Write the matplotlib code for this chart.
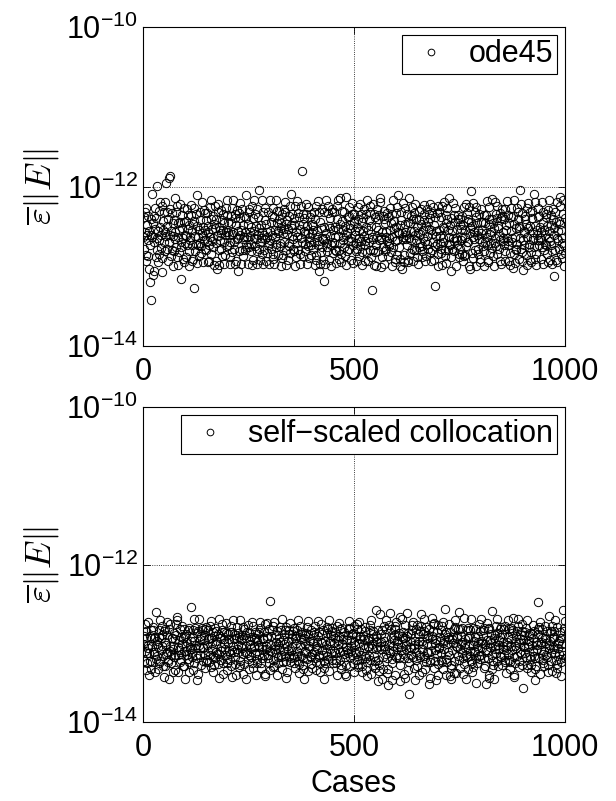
import numpy as np
import matplotlib
matplotlib.use('Agg')
import matplotlib.pyplot as plt

# error level per case, one letter per case ('a' = lowest level)
ode45_codes = (
    "mpkqnhrjom lqingekpmb mtfogqlnri pkvmhnqjls omkrigpnql"
    "jnsmwkqoph lwxmrinkqo hmpjtlnqki rmohnjpsle knqmiorhlm"
    "pimkrnqjho lmsqhnkiop rdjmlqhtok mnipqlkjsn homrlkqnjp"
    "qlnhokimrp jsnlqmkohr nlpigmqsjh olnrmkpiqn hlomjrnkqs"
    "npkmlihqor jmnslkpqhi olrnmgjqps mhnkrloiqm jnpltkmhor"
    "kqmnjolrhp imnskqlojh rmpnkuilom sjnhqkmlpr iomnjkqlhs"
    "lnokmqrjip hmnlskoqjn mprklhnoqi jmlnrsqkho pminlkqjro"
    "umnqlkpojh rinmlsqkpo jnhmrlyqio pnmjlsqhok rnilmpqkjo"
    "mkonlqhpjr inmsklgqhp jnrmklioeq hmnsljkrqo imnpkhqlrj"
    "nlqkomjhpr snmiklotjh rpnmlkqoit hmjnlpkrqo nimlsqkhpo"
    "qmnjlokhrp mnisklqohj pnrmlkiqos jhmnlprkqo icmlskqhpj"
    "okhmrnpjlq stlmgnikqp hrojnmkqli plkmnrjohq mkspnlhiqo"
    "ljrntkmohi pqngmlsjho nrlmkqpiht mojnlqkrhp qnkmsljpio"
    "hnpqkmlori kjmnqpslho irmlkonqjp snhmkqlrio pkdmnqlhjr"
    "nqlmkjphro mlsnkioqhp rjnmltkogi pnkmsjlqro hmklnpqijo"
    "kplnmqjhor injmksqlpo lhrnmgupoj simnlkqhpr omjnklqhip"
    "mrnlkpqjho lnqsmkihop rmjnlktpoi hnmslkqrjp onmkilqhpr"
    "qnlmkpjrho nmslkqoijh prnmlgqojs hmnjkrlqpo niumksqhjg"
    "lkmnqpojhr mnsklqiohj rpmnlktois jhnmlprkqo mnilskqhpj"
    "nmlkqpojhr smnilkqohj prnmfkqois hmnlpkrtoj nimlsqkhpj"
)
# tenths of a level added to each letter above
ode45_fine = (
    "3827194056 7193528460 2958103746 6041839275 1739502684"
    "8264017359 4916283057 0537291846 9382650147 5820394716"
    "1649372805 7302958461 4175036829 2693817450 8041726593"
    "6518290374 3975104628 8240657193 0751923846 4386051729"
    "2097364185 6829417350 5913028674 7460395812 9170842563"
    "4752810936 1048639275 3689172450 8215706934 0632497158"
    "7391605248 5260847913 9406218735 1947358026 3827160495"
    "0583926471 8613275094 2751940386 6398014527 7054283916"
    "9126473508 2437961850 6830592147 4109275863 1596807324"
    "5270138649 9754016238 0162847395 3682591704 8205439617"
    "3648201975 0481753926 7325690418 5916438072 6739104285"
    "1905364782 6293817405 4087132569 9270546813 2481957360"
    "8162759403 3705294186 1596840273 0843712695 5306289471"
    "4039581627 7816430592 8240197356 2698053714 9754360128"
    "6715248390 1359087264 5963028417 7410386259 0198742635"
    "2487013956 8602715349 3178965024 4532907186 7625193840"
    "9354602718 4027391865 6841230579 1805264937 3951086472"
    "0261857394 5176928043 9530471628 6389150742 8470215963"
    "7893146025 2945071386 0712859346 3256784901 1238647509"
    "5608493271 9031682457 4286307915 8047219563 6502938174"
)

ssc_codes = (
    "oqlnsjprmk tnomilqrpj kosrnpmqil vopmjnrqkt lnpsoqmjrh"
    "pjromtnqlk rhosnmkpqi onlrpjmsqu toimnpkrlq mosjpnrkhq"
    "qnopmlrksi onwpqlmjrt kpsnomqlhr iotpnmqkrs nlopqmjrsk"
    "lornpqkmsj ptonmirqkl sonrpmkqht mpqonlsrki ropnmqtljk"
    "oqnprmlksh nrotpmqkli psnomrqjkt lopnqsmirk qnhopmrlsj"
    "rmopnqlktj sonprmqikl pqonmrtsjk lnopqmrhsi onptqmlrkj"
    "xnqomrlsjk tonpqmrilk oqnpsmlrjt kpnoqmrlsh ionpqrmtkl"
    "nqopmrlskj poqnrmtlik sonpmqrjlk hponqmrsli tqonpmrlkj"
    "mpoqnrlsjk onptqmrlik spnoqmrjlh kponqmsrlt jonpqmrlsk"
    "qonpmrlksi npoqtmrljk sopnqmrilh konpqmrstj lonpqmrksi"
    "pnoqmrlskj tonpqmrlik oqnpsmrljh kpnoqmrlst ionpqrmklj"
    "nvqopgrlik uonpqhrljs poqnrmtlig jsonvmqrlh konqpisrlt"
    "mpnoqrlugk onqtpmrlih spnoqvrjlk eponqmsrlt jonphmrlsk"
    "qoipmrlvsi npoqumrljk sopnqmrglh konpqurstj lonpgmrksi"
    "onpqmrlskj tonpqwrlik oqnpsmrhjh kpnoqirlst ionpqrmvlj"
    "rnqopmslik uonphmrljs poqnrmtlik jsonpmqrlg konqpmsrlt"
    "mpnoqrlsjk ongtpmrlih spnoqmvjlk hponqmsrlt jonpqmrlsk"
    "qonpmrlksi npoqtmrljk sopnqurilh konpqmrstj lonpqmrksf"
    "pnoqmrlskj tonpqmrlik oqnpsmrljh kpnoqxrlst ionpqrmklj"
    "nsqopmrlik uonpqmrljs poqnrmtlik jsonpmqrlh konqvmsrlt"
)
ssc_fine = (
    "6402918375 2857104693 9136085274 4720396158 0385261947"
    "1974630528 7319245806 3580712964 8062459731 5649817023"
    "8230456917 0643187259 6218539704 2597843160 7104635928"
    "3561709248 9485062317 1703264859 5940128673 2876390415"
    "9817253046 4126795380 8354901726 0178536294 6031982574"
    "0462819735 5398270164 2849613057 7516042983 1590437862"
    "7135962480 3260584197 6071328549 9427806135 8243751096"
    "2709348156 8942617053 4596082371 3861570249 4718206935"
    "5386027419 1705432986 9138746502 6250913847 0962584317"
    "4928713650 6573098241 0762451398 2034687159 9315720648"
    "1054692837 2816349570 5487203619 8492015376 3679841205"
    "6840175392 9150726834 3215968740 4763280951 7126504983"
    "3297506481 0439861725 7954310268 1308746592 5482197360"
    "8613249057 5278013649 2680597134 9517423806 0835962471"
    "0721863594 3964702518 6107842953 2649158037 4198370526"
    "9546081723 1687235940 8432609175 7051392864 6273018459"
    "2389457160 7320498615 1598736402 3826574019 9564207831"
    "7160392845 4051867239 0374925186 6280413597 1807653294"
    "4935728016 8793510462 5829613740 0164859723 3741086529"
    "1508634972 6482973105 9016487253 5397260148 8620941375"
)

# log10 of the lowest level and size of one letter step
ode45_low, ode45_step = -13.46, 0.07
ssc_low, ssc_step = -13.86, 0.06

panels = [('ode45', ode45_codes, ode45_fine, ode45_low, ode45_step),
          ('self\u2212scaled collocation', ssc_codes, ssc_fine, ssc_low, ssc_step)]


def decode(codes, fine, low, step):
    '''letters (+ tenths) -> error values'''
    s = codes.replace(' ', '')
    idx = np.array([ord(c) - ord('a') for c in s], dtype=float)
    f = np.array([int(c) for c in fine.replace(' ', '')], dtype=float)
    f = np.resize(f, idx.size)
    return 10.0 ** (low + step * (idx + (f - 4.5) / 10.0))


plt.rcParams['font.family'] = ['Liberation Sans', 'DejaVu Sans']

fig = plt.figure(figsize=(6.16, 8.01), dpi=100)
W, H = 616.0, 801.0
boxes = [(143, 27, 565, 346), (143, 407, 565, 722)]  # left, top, right, bottom in px

for (name, codes, fine, low, step), (l, t, r, b) in zip(panels, boxes):
    ax = fig.add_axes([l / W, 1 - b / H, (r - l) / W, (b - t) / H])
    err = decode(codes, fine, low, step)
    cases = np.arange(1, len(err) + 1)
    ax.semilogy(cases, err, 'o', mfc='none', mec='k', ms=6, mew=0.7, label=name)

    ax.set_xlim(0, 1000)
    ax.set_ylim(1e-14, 1e-10)
    ax.set_xticks([0, 500, 1000])
    ax.set_yticks([1e-14, 1e-12, 1e-10])
    ax.set_yticklabels([r'$\mathregular{10^{-14}}$', r'$\mathregular{10^{-12}}$',
                        r'$\mathregular{10^{-10}}$'])
    ax.yaxis.set_minor_locator(matplotlib.ticker.NullLocator())
    ax.grid(True, which='major', linestyle=':', color='k', linewidth=0.6)
    ax.tick_params(direction='in', top=True, right=True, labelsize=22, length=5, width=0.6)
    ax.tick_params(axis='x', pad=8)
    for sp in ax.spines.values():
        sp.set_linewidth(0.8)

    ax.set_ylabel(r'$\overline{\varepsilon}\|E\|$', fontsize=26, math_fontfamily='cm')
    leg = ax.legend(loc='upper right', fontsize=22, fancybox=False, edgecolor='k', framealpha=1,
                    borderaxespad=0.25, borderpad=0.15, handlelength=1.6, handletextpad=0.43,
                    markerscale=0.8)
    leg.get_frame().set_linewidth(0.8)

ax.set_xlabel('Cases', fontsize=22)

plt.savefig('out.png', dpi=100)
